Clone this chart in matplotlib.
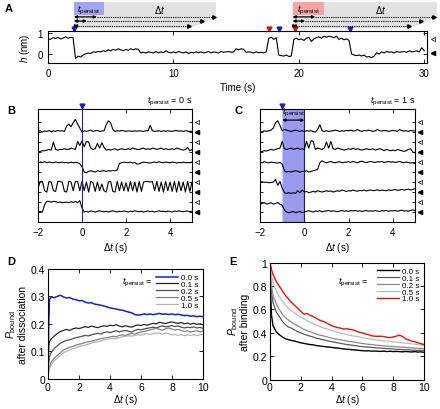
import matplotlib.pyplot as plt
import numpy as np
from matplotlib.patches import Polygon, Rectangle

plt.rcParams["font.family"] = ["Liberation Sans", "DejaVu Sans"]
plt.rcParams["mathtext.fontset"] = "custom"
plt.rcParams["mathtext.rm"] = "Liberation Sans"
plt.rcParams["mathtext.it"] = "Liberation Sans:italic"
plt.rcParams["font.size"] = 7
plt.rcParams["axes.linewidth"] = 0.8
plt.rcParams["xtick.direction"] = "in"
plt.rcParams["ytick.direction"] = "in"
plt.rcParams["xtick.top"] = True
plt.rcParams["ytick.right"] = True
plt.rcParams["xtick.major.size"] = 3
plt.rcParams["ytick.major.size"] = 3
plt.rcParams["xtick.major.width"] = 0.6
plt.rcParams["ytick.major.width"] = 0.6

# ==========================================
# DATA
# ==========================================
# panel A: single trace, one point every 0.2 s
time_a = np.linspace(0, 30, 151)
h_a = [
    0.72, 0.7, 0.78, 0.74, 0.8, 0.72, 0.76, 0.82, 0.75, 0.8, 0.78,
    -0.22, -0.1, -0.15, -0.05, 0.0, 0.05, 0.02, 0.1, 0.08, 0.12,
    0.1, 0.15, 0.12, 0.2, 0.15, 0.22, 0.18, 0.25, 0.2, 0.15,
    0.22, 0.18, 0.25, 0.2, 0.25, 0.22, 0.05, 0.08, 0.05, 0.1,
    0.08, 0.05, 0.12, 0.05, 0.1, 0.06, 0.15, 0.08, 0.05, 0.1,
    0.05, 0.12, 0.08, 0.05, 0.1, 0.02, 0.08, 0.05, 0.1, 0.06,
    0.1, 0.05, 0.08, 0.12, 0.05, 0.1, 0.08, 0.05, 0.12, 0.08,
    0.1, 0.12, 0.08, 0.1, 0.25, 0.2, 0.25, 0.22, 0.08, 0.1,
    0.08, 0.05, 0.1, 0.06, 0.08, 0.05, 0.1, 0.75, 0.8, 0.7,
    0.78, -0.05, -0.08, -0.1, -0.05, -0.12, -0.1, 0.7, 0.75, 0.68,
    0.72, 0.65, 0.75, 0.8, 0.6, 0.72, 0.78, 0.82, 0.75, 0.85,
    0.8, 0.85, 0.82, 0.78, 0.85, 0.7, 0.75, 0.68, 0.72, 0.65,
    0.0, -0.05, -0.08, -0.05, -0.1, -0.05, -0.15, -0.12, -0.18, -0.1,
    0.05, 0.0, 0.1, 0.05, 0.12, 0.08, 0.1, 0.05, 0.12, 0.08,
    0.1, 0.12, 0.08, 0.15, 0.1, 0.12, 0.15, 0.1, 0.3, 0.15,
]
binding_a = [17.6, 19.7]          # red triangles
dissociation_a = [2.1, 18.4, 24.1]  # blue triangles
bound_level_a = 0.72
unbound_level_a = 0.05

# panels B and C: five aligned traces, one point every 0.1 s
dt_traces = np.linspace(-2, 5, 71)
traces_b = [
    [0.05, 0.1, 0.0, 0.08, 0.05, 0.12, 0.02, 0.1, 0.06, 0.12, 0.08,
     0.1, 0.05, 0.45, 0.6, 0.4, 0.7, 0.95, 0.6, 0.3,
     0.0, 0.1, 0.05, 0.1, 0.15, 0.05, 0.1, 0.12, 0.05, 0.08,
     0.1, 0.55, 0.85, 0.7, 0.2, 0.05, 0.1, 0.08, 0.12, 0.1,
     0.05, 0.1, 0.08, 0.05, 0.1, 0.06, 0.1, 0.08, 0.05, 0.1,
     0.1, 0.5, 0.1, 0.05, 0.08, 0.1, 0.05, 0.1, 0.06, 0.1,
     0.08, 0.05, 0.1, 0.12, 0.06, 0.1, 0.05, 0.1, 0.08, 0.05, 0.06],
    [0.0, 0.05, 0.1, 0.1, 0.15, 0.2, 0.15, 0.75, 0.2, 0.15, 0.2,
     0.2, 0.25, 0.2, 0.2, 0.3, 0.25, 0.2, 0.8, 0.5,
     0.85, 0.4, 0.8, 0.75, 0.3, 0.2, 0.25, 0.65, 0.3, 0.7,
     0.35, 0.15, 0.2, 0.15, 0.2, 0.25, 0.15, 0.2, 0.25, 0.2,
     0.2, 0.25, 0.2, 0.3, 0.25, 0.2, 0.2, 0.25, 0.3, 0.2,
     0.25, 0.2, 0.3, 0.25, 0.2, 0.25, 0.3, 0.2, 0.25, 0.2,
     0.2, 0.25, 0.2, 0.3, 0.25, 0.2, 0.15, 0.2, 0.35, 0.1, 0.2],
    [0.7, 0.75, 0.72, 0.78, 0.7, 0.75, 0.72, 0.7, 0.76, 0.72, 0.7,
     0.75, 0.7, 0.72, 0.68, 0.75, 0.7, 0.72, 0.7, 0.62,
     0.4, 0.0, -0.05, 0.05, 0.1, 0.05, 0.0, 0.1, 0.05, 0.08,
     0.1, 0.05, 0.1, 0.08, 0.12, 0.1, 0.15, 0.65, 0.7, 0.75,
     0.72, 0.7, 0.75, 0.68, 0.72, 0.6, 0.62, 0.7, 0.75, 0.72,
     0.7, 0.68, 0.72, 0.75, 0.7, 0.78, 0.72, 0.7, 0.75, 0.72,
     0.7, 0.75, 0.72, 0.68, 0.72, 0.7, 0.75, 0.7, 0.72, 0.7, 0.75],
    [0.3, 0.8, 0.8, 0.1, 0.0, 0.8, 0.75, 0.1, 0.05, 0.8, 0.8,
     0.75, 0.05, 0.0, 0.8, 0.75, 0.1, 0.8, 0.8, 0.1,
     0.8, 0.1, 0.75, 0.0, 0.8, 0.7, 0.05, 0.75, 0.1, 0.6,
     0.1, 0.0, 0.75, 0.8, 0.05, 0.0, 0.8, 0.1, 0.75, 0.1,
     0.7, 0.05, 0.8, 0.1, 0.75, 0.0, 0.8, 0.05, 0.75, 0.8,
     0.8, 0.75, 0.8, 0.1, 0.8, 0.05, 0.75, 0.0, 0.8, 0.1,
     0.75, 0.05, 0.8, 0.0, 0.8, 0.1, 0.75, 0.0, 0.8, 0.05, 0.75],
    [0.0, 0.05, 0.0, 0.55, 0.8, 0.8, 0.75, 0.8, 0.78, 0.72, 0.75,
     0.7, 0.72, 0.75, 0.7, 0.78, 0.72, 0.8, 0.7, 0.85,
     0.3, 0.0, 0.05, 0.0, 0.08, 0.05, 0.0, 0.05, 0.1, 0.05,
     0.02, 0.06, 0.0, 0.05, 0.1, 0.04, 0.0, 0.06, 0.03, 0.08,
     0.05, 0.0, 0.07, 0.03, 0.1, 0.05, 0.02, 0.06, 0.0, 0.05,
     0.08, 0.03, 0.06, 0.0, 0.05, 0.1, 0.04, 0.06, 0.02, 0.07,
     0.05, 0.0, 0.08, 0.04, 0.1, 0.05, 0.02, 0.06, 0.08, 0.03, 0.05],
]
traces_c = [
    [0.05, 0.0, 0.1, 0.05, 0.1, 0.15, 0.3, 0.7, 0.85, 0.5, 0.1,
     0.2, 0.15, 0.1, 0.05, 0.1, 0.15, 0.1, 0.05, 0.1,
     0.05, 0.1, 0.08, 0.1, 0.05, 0.0, 0.2, 0.55, 0.1, 0.05,
     0.1, 0.05, 0.08, 0.1, 0.15, 0.1, 0.05, 0.1, 0.08, 0.12,
     0.1, 0.15, 0.08, 0.1, 0.2, 0.1, 0.05, 0.12, 0.1, 0.15,
     0.1, 0.05, 0.1, 0.2, 0.1, 0.08, 0.12, 0.1, 0.05, 0.1,
     0.12, 0.1, 0.05, 0.2, 0.1, 0.08, 0.1, 0.05, 0.12, 0.1, 0.08],
    [0.0, 0.05, 0.1, 0.08, 0.15, 0.2, 0.15, 0.2, 0.25, 0.3, 0.8,
     0.25, 0.2, 0.25, 0.3, 0.2, 0.25, 0.3, 0.2, 0.25,
     0.2, 0.8, 0.3, 0.85, 0.8, 0.2, 0.3, 0.25, 0.2, 0.3,
     0.75, 0.3, 0.8, 0.25, 0.2, 0.3, 0.25, 0.2, 0.15, 0.2,
     0.25, 0.2, 0.3, 0.2, 0.25, 0.2, 0.15, 0.2, 0.25, 0.2,
     0.2, 0.25, 0.15, 0.2, 0.25, 0.2, 0.1, 0.2, 0.15, 0.1,
     0.15, 0.1, 0.2, 0.15, 0.1, 0.05, 0.1, 0.2, 0.25, 0.0, -0.05],
    [0.75, 0.7, 0.78, 0.72, 0.7, 0.75, 0.72, 0.7, 0.68, 0.72, 0.6,
     0.1, 0.0, 0.05, 0.0, 0.05, 0.1, 0.05, 0.0, 0.05,
     0.05, 0.1, 0.0, 0.05, 0.1, 0.15, 0.2, 0.7, 0.85, 0.75,
     0.7, 0.75, 0.8, 0.72, 0.7, 0.75, 0.78, 0.7, 0.72, 0.75,
     0.78, 0.72, 0.8, 0.75, 0.7, 0.78, 0.82, 0.75, 0.72, 0.76,
     0.8, 0.75, 0.72, 0.78, 0.75, 0.8, 0.72, 0.76, 0.8, 0.74,
     0.78, 0.72, 0.75, 0.8, 0.74, 0.7, 0.76, 0.72, 0.68, 0.7, 0.62],
    [0.75, 0.78, 0.72, 0.75, 0.7, 0.72, 0.75, 0.95, 0.5, 0.8, 0.3,
     -0.05, -0.1, -0.05, -0.1, -0.05, -0.1, 0.1, -0.05, 0.15,
     0.0, 0.05, -0.05, 0.0, 0.05, 0.0, 0.1, 0.05, 0.0, 0.05,
     0.1, 0.05, 0.08, 0.0, 0.05, 0.1, 0.06, 0.15, 0.1, 0.05,
     0.1, 0.08, 0.15, 0.1, 0.06, 0.12, 0.1, 0.15, 0.08, 0.12,
     0.15, 0.1, 0.12, 0.18, 0.1, 0.15, 0.12, 0.1, 0.16, 0.12,
     0.15, 0.2, 0.12, 0.16, 0.2, 0.14, 0.18, 0.22, 0.15, 0.2, 0.25],
    [0.6, 0.65, 0.7, 0.6, 0.65, 0.7, 0.6, 0.65, 0.7, 0.6, 0.5,
     0.15, 0.0, -0.05, 0.0, 0.05, -0.05, 0.0, 0.05, -0.05,
     0.0, 0.05, 0.1, 0.05, 0.0, 0.08, 0.05, 0.1, 0.02, 0.06,
     0.08, 0.12, 0.05, 0.1, 0.06, 0.02, 0.08, 0.12, 0.06, 0.1,
     0.05, 0.1, 0.08, 0.12, 0.06, 0.1, 0.04, 0.08, 0.12, 0.06,
     0.1, 0.06, 0.12, 0.08, 0.04, 0.1, 0.08, 0.12, 0.06, 0.1,
     0.08, 0.12, 0.06, 0.1, 0.14, 0.08, 0.1, 0.06, 0.12, 0.16, 0.1],
]

# panels D and E: P_bound curves
dt_curves = np.concatenate([[0.0, 0.05, 0.1], np.linspace(0.2, 10.0, 50)])
persist_labels = ["0.0 s", "0.1 s", "0.2 s", "0.5 s", "1.0 s"]
p_after_dissociation = [
    [0.0, 0.2, 0.29,
     0.298, 0.295, 0.300, 0.304, 0.298, 0.294, 0.296, 0.290, 0.288, 0.284,
     0.285, 0.279, 0.276, 0.277, 0.272, 0.270, 0.268, 0.265, 0.262, 0.258,
     0.256, 0.254, 0.251, 0.250, 0.246, 0.243, 0.240, 0.234, 0.232, 0.233,
     0.236, 0.234, 0.236, 0.233, 0.236, 0.238, 0.235, 0.236, 0.234, 0.236,
     0.233, 0.235, 0.232, 0.230, 0.231, 0.228, 0.229, 0.226, 0.228, 0.226],
    [0.0, 0.12, 0.135,
     0.145, 0.155, 0.165, 0.172, 0.176, 0.180, 0.176, 0.182, 0.185, 0.183,
     0.186, 0.190, 0.187, 0.192, 0.189, 0.186, 0.190, 0.193, 0.191, 0.195,
     0.193, 0.197, 0.192, 0.189, 0.193, 0.190, 0.188, 0.193, 0.196, 0.194,
     0.198, 0.195, 0.199, 0.202, 0.200, 0.206, 0.203, 0.201, 0.205, 0.207,
     0.204, 0.202, 0.205, 0.200, 0.203, 0.199, 0.202, 0.198, 0.200, 0.197],
    [0.0, 0.06, 0.08,
     0.095, 0.11, 0.12, 0.13, 0.135, 0.14, 0.142, 0.146, 0.150, 0.152,
     0.155, 0.158, 0.156, 0.160, 0.163, 0.166, 0.163, 0.168, 0.171, 0.168,
     0.172, 0.175, 0.171, 0.174, 0.176, 0.173, 0.170, 0.176, 0.180, 0.178,
     0.181, 0.184, 0.186, 0.188, 0.185, 0.190, 0.193, 0.189, 0.191, 0.194,
     0.190, 0.192, 0.188, 0.185, 0.188, 0.186, 0.189, 0.185, 0.187, 0.184],
    [0.0, 0.03, 0.045,
     0.06, 0.075, 0.085, 0.095, 0.105, 0.11, 0.115, 0.118, 0.122, 0.126,
     0.128, 0.132, 0.135, 0.137, 0.140, 0.143, 0.146, 0.148, 0.150, 0.152,
     0.155, 0.153, 0.158, 0.160, 0.158, 0.162, 0.165, 0.163, 0.167, 0.170,
     0.172, 0.175, 0.178, 0.181, 0.184, 0.180, 0.177, 0.182, 0.185, 0.181,
     0.178, 0.180, 0.176, 0.172, 0.175, 0.170, 0.173, 0.175, 0.171, 0.174],
    [0.0, 0.025, 0.035,
     0.05, 0.065, 0.075, 0.085, 0.095, 0.10, 0.105, 0.11, 0.113, 0.117,
     0.12, 0.123, 0.126, 0.130, 0.133, 0.135, 0.138, 0.141, 0.143, 0.146,
     0.148, 0.146, 0.150, 0.153, 0.155, 0.157, 0.155, 0.158, 0.161, 0.159,
     0.162, 0.164, 0.161, 0.165, 0.167, 0.166, 0.163, 0.167, 0.164, 0.160,
     0.162, 0.158, 0.161, 0.157, 0.160, 0.158, 0.161, 0.157, 0.160, 0.162],
]
p_after_binding = [
    [1.0, 0.7, 0.55,
     0.46, 0.41, 0.385, 0.365, 0.35, 0.342, 0.335, 0.33, 0.322, 0.315,
     0.31, 0.305, 0.3, 0.298, 0.292, 0.288, 0.285, 0.282, 0.279, 0.276,
     0.272, 0.27, 0.266, 0.263, 0.26, 0.258, 0.255, 0.253, 0.25, 0.248,
     0.246, 0.247, 0.244, 0.245, 0.243, 0.242, 0.244, 0.241, 0.243, 0.24,
     0.242, 0.24, 0.238, 0.241, 0.239, 0.237, 0.24, 0.236, 0.238, 0.234],
    [1.0, 0.82, 0.74,
     0.66, 0.58, 0.54, 0.5, 0.47, 0.45, 0.44, 0.425, 0.41, 0.40,
     0.39, 0.38, 0.372, 0.365, 0.355, 0.35, 0.342, 0.338, 0.33, 0.325,
     0.32, 0.315, 0.31, 0.305, 0.30, 0.297, 0.293, 0.29, 0.285, 0.283,
     0.28, 0.278, 0.276, 0.273, 0.271, 0.27, 0.268, 0.266, 0.265, 0.262,
     0.26, 0.259, 0.257, 0.255, 0.256, 0.253, 0.252, 0.25, 0.251, 0.248],
    [1.0, 0.86, 0.8,
     0.72, 0.65, 0.6, 0.56, 0.53, 0.51, 0.49, 0.475, 0.46, 0.445,
     0.43, 0.42, 0.41, 0.4, 0.39, 0.382, 0.376, 0.37, 0.362, 0.355,
     0.35, 0.344, 0.34, 0.335, 0.33, 0.326, 0.322, 0.318, 0.314, 0.31,
     0.306, 0.302, 0.3, 0.297, 0.294, 0.292, 0.29, 0.287, 0.285, 0.283,
     0.282, 0.279, 0.278, 0.276, 0.274, 0.272, 0.27, 0.268, 0.267, 0.265],
    [1.0, 0.93, 0.89,
     0.83, 0.76, 0.71, 0.67, 0.64, 0.61, 0.59, 0.57, 0.55, 0.535,
     0.52, 0.505, 0.49, 0.48, 0.468, 0.455, 0.445, 0.437, 0.43, 0.42,
     0.412, 0.405, 0.398, 0.392, 0.385, 0.38, 0.374, 0.37, 0.365, 0.36,
     0.355, 0.35, 0.347, 0.342, 0.338, 0.335, 0.332, 0.33, 0.326, 0.322,
     0.32, 0.318, 0.315, 0.312, 0.31, 0.306, 0.303, 0.3, 0.296, 0.292],
    [1.0, 0.97, 0.94,
     0.9, 0.84, 0.8, 0.76, 0.72, 0.69, 0.66, 0.635, 0.61, 0.585,
     0.56, 0.565, 0.55, 0.54, 0.525, 0.51, 0.5, 0.49, 0.475, 0.462,
     0.452, 0.445, 0.44, 0.432, 0.435, 0.43, 0.425, 0.415, 0.405, 0.4,
     0.39, 0.385, 0.375, 0.372, 0.37, 0.372, 0.368, 0.362, 0.36, 0.365,
     0.372, 0.38, 0.37, 0.35, 0.34, 0.33, 0.325, 0.315, 0.308, 0.3],
]

BLUE = "#1c1cc8"
RED = "#e01010"
BLUE_FILL = "#a4a4f0"
RED_FILL = "#f5a3a3"
GREY_FILL = "#e2e2e2"
TPERSIST = r"$t_{\rm persist}$"


# ==========================================
# PANEL HELPERS
# ==========================================
def draw_window(ax, t0, box_end, grey_end, solid_ends, dotted_ends, fill):
    """t_persist / delta-t sketch above the trace."""
    tr = ax.get_xaxis_transform()
    grey = Polygon([(t0, 1.9), (grey_end, 1.9), (grey_end, 1.42),
                    (dotted_ends[2], 1.08), (t0, 1.08)],
                   closed=True, facecolor=GREY_FILL, edgecolor="none",
                   transform=tr, clip_on=False)
    ax.add_patch(grey)
    box = Rectangle((t0, 1.5), box_end - t0, 0.4, facecolor=fill,
                    edgecolor="none", transform=tr, clip_on=False)
    ax.add_patch(box)
    ax.text((t0 + box_end) / 2, 1.68, TPERSIST, transform=tr, ha="center",
            va="center", fontsize=6.5)
    ax.text((box_end + grey_end) / 2, 1.7, r"$\Delta t$", transform=tr,
            ha="center", va="center", fontsize=7)
    for y, s_end, d_end in zip([1.44, 1.31, 1.16], solid_ends, dotted_ends):
        ax.plot([s_end, d_end], [y, y], color="k", lw=0.8, ls=(0, (1, 1)),
                transform=tr, clip_on=False)
        ax.plot([d_end], [y], ">", color="k", ms=2.5, transform=tr,
                clip_on=False)
        ax.annotate("", xy=(s_end, y), xytext=(t0, y), xycoords=tr,
                    textcoords=tr, annotation_clip=False,
                    arrowprops=dict(arrowstyle="<|-|>", color="k", lw=0.9,
                                    mutation_scale=4, shrinkA=0, shrinkB=0))


def draw_traces(ax, traces, title):
    offsets = [6.0, 4.5, 3.0, 1.5, 0.0]
    for tr_vals, off in zip(traces, offsets):
        ax.plot(dt_traces, np.array(tr_vals) + off, color="k", lw=0.8)
    ax.set_xlim(-2, 5)
    ax.set_ylim(-0.75, 7.73)
    ax.set_xticks([-2, 0, 2, 4])
    ax.set_yticks(sorted(offsets + [o + 0.75 for o in offsets]))
    ax.tick_params(axis="y", labelleft=False, length=2)
    ax.set_xlabel(r"$\Delta t$ (s)", labelpad=2)
    side = ax.get_yaxis_transform()
    ax.plot([1.03] * 5, [o + 0.75 for o in offsets], "<", mfc="white",
            mec="k", mew=0.5, ms=3, transform=side, clip_on=False)
    ax.plot([1.03] * 5, offsets, "<", color="k", ms=3, transform=side,
            clip_on=False)
    ax.text(1.0, 1.02, TPERSIST + " = " + title, transform=ax.transAxes,
            ha="right", va="bottom", fontsize=6.5)


def draw_curves(ax, curves, colors, widths):
    for vals, col, lw, lab in zip(curves, colors, widths, persist_labels):
        ax.plot(dt_curves, vals, color=col, lw=lw, label=lab)
    ax.set_xlim(0, 10)
    ax.set_xticks([0, 2, 4, 6, 8, 10])
    ax.set_xlabel(r"$\Delta t$ (s)", labelpad=0)
    ax.tick_params(labelsize=7.5, pad=2)
    ax.legend(loc="upper right", frameon=False, fontsize=5.8,
              handlelength=2.8, labelspacing=-0.1, handletextpad=0.3,
              borderaxespad=0.3, borderpad=0.3)


# ==========================================
# FIGURE
# ==========================================
fig = plt.figure(figsize=(4.4, 4.1), dpi=100)

# A
axA = fig.add_axes([0.109, 0.844, 0.861, 0.078])
axA.plot(time_a, h_a, color="k", lw=0.8)
axA.set_xlim(0, 30.2)
axA.set_ylim(-0.43, 1.1)
axA.set_xticks([0, 10, 20, 30])
axA.set_yticks([0, 1])
axA.set_xlabel("Time (s)", labelpad=3)
axA.set_ylabel(r"$h$ (nm)", labelpad=4)
trA = axA.get_xaxis_transform()
axA.plot(dissociation_a, [1.06] * 3, "v", color=BLUE, ms=3.5,
         transform=trA, clip_on=False)
axA.plot(binding_a, [1.06] * 2, "v", color=RED, ms=3.5, transform=trA,
         clip_on=False)
sideA = axA.get_yaxis_transform()
axA.plot([1.016], [bound_level_a], "<", mfc="white", mec="k", mew=0.5,
         ms=3, transform=sideA, clip_on=False)
axA.plot([1.016], [unbound_level_a], "<", color="k", ms=3,
         transform=sideA, clip_on=False)
draw_window(axA, 2.07, 4.43, 13.4, [3.9, 3.1, 2.4], [13.2, 12.3, 11.25],
            BLUE_FILL)
draw_window(axA, 19.5, 22.0, 31.0, [21.3, 20.5, 19.8], [30.8, 29.7, 28.8],
            RED_FILL)

# B
axB = fig.add_axes([0.0864, 0.456, 0.35, 0.2756])
draw_traces(axB, traces_b, "0 s")
axB.axvline(0, color=BLUE, lw=0.8)
axB.plot([0], [1.03], "v", color=BLUE, ms=3.5,
         transform=axB.get_xaxis_transform(), clip_on=False)

# C
axC = fig.add_axes([0.591, 0.456, 0.3523, 0.2756])
axC.axvspan(-1, 0, facecolor="#9a9aee", edgecolor="none")
axC.axvline(-1, color="#c8c8f4", lw=0.8)
axC.axvline(0, color="#202060", lw=0.8)
draw_traces(axC, traces_c, "1 s")
axC.plot([-1], [1.03], "v", color=BLUE, ms=3.5,
         transform=axC.get_xaxis_transform(), clip_on=False)
axC.annotate("", xy=(0, 6.9), xytext=(-1, 6.9),
             arrowprops=dict(arrowstyle="<|-|>", color="k", lw=0.9,
                             mutation_scale=4, shrinkA=0, shrinkB=0))
axC.text(-0.5, 7.05, TPERSIST, ha="center", va="bottom", fontsize=6.5)

# D
axD = fig.add_axes([0.109, 0.0735, 0.3523, 0.2683])
draw_curves(axD, p_after_dissociation,
            [BLUE, "#262626", "#505050", "#808080", "#b4b4b4"],
            [1.1, 0.9, 0.9, 0.9, 0.9])
axD.set_ylim(0, 0.4)
axD.set_yticks([0, 0.1, 0.2, 0.3, 0.4])
axD.set_yticklabels(["0", "0.1", "0.2", "0.3", "0.4"])
axD.set_ylabel(r"$P_{\rm bound}$" + "\nafter dissociation", labelpad=2,
               fontsize=7.5, linespacing=1.0)
axD.text(0.48, 0.89, TPERSIST + " =", transform=axD.transAxes,
         ha="left", va="center", fontsize=6.5)

# E
axE = fig.add_axes([0.6136, 0.0715, 0.35, 0.2854])
draw_curves(axE, p_after_binding,
            ["k", "#5a5a5a", "#8a8a8a", "#bcbcbc", RED],
            [1.0, 0.9, 0.9, 0.9, 1.0])
axE.set_ylim(0, 1)
axE.set_yticks([0, 0.2, 0.4, 0.6, 0.8, 1.0])
axE.set_yticklabels(["0", "0.2", "0.4", "0.6", "0.8", "1"])
axE.set_ylabel(r"$P_{\rm bound}$" + "\nafter binding", labelpad=2,
               fontsize=7.5, linespacing=1.0)
axE.text(0.44, 0.84, TPERSIST + " =", transform=axE.transAxes,
         ha="left", va="center", fontsize=6.5)

# panel letters
for lab, x, y in [("A", 0.011, 0.978), ("B", 0.016, 0.73),
                  ("C", 0.532, 0.73), ("D", 0.016, 0.36),
                  ("E", 0.522, 0.36)]:
    fig.text(x, y, lab, fontsize=8, fontweight="bold", va="center")

fig.savefig("out.png", dpi=100)
